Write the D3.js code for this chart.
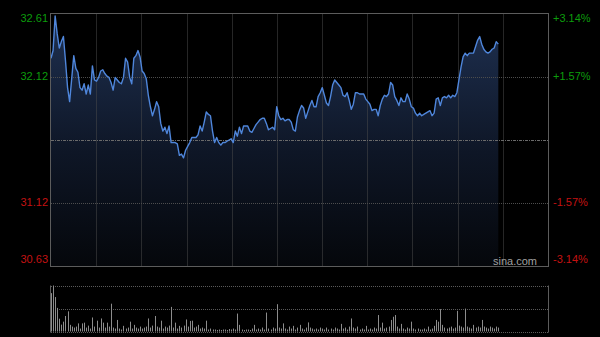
<!DOCTYPE html>
<html>
<head>
<meta charset="utf-8">
<script src="https://cdn.jsdelivr.net/npm/d3@7"></script>
<style>
  html, body { margin: 0; padding: 0; background: #000; }
  svg { display: block; }
</style>
</head>
<body>
<div id="viz"></div>
<script>
// minute-by-minute prices, 9:30 onwards (index = trading minute)
const prices = [
  32.26, 32.32, 32.59, 32.45, 32.34, 32.39, 32.43, 32.24, 32.03, 31.92,
  32.10, 32.28, 32.18, 32.15, 32.03, 32.01, 32.06, 31.98, 32.05, 31.98,
  32.20, 32.09, 32.08, 32.11, 32.16, 32.17, 32.14, 32.12, 32.11, 32.07,
  32.01, 32.11, 32.09, 32.07, 32.06, 32.11, 32.26, 32.23, 32.11, 32.06,
  32.26, 32.28, 32.32, 32.27, 32.16, 32.14, 32.10, 31.97, 31.88, 31.81,
  31.86, 31.92, 31.88, 31.75, 31.69, 31.72, 31.67, 31.73, 31.60, 31.60,
  31.60, 31.59, 31.50, 31.51, 31.48, 31.54, 31.57, 31.60, 31.64, 31.64,
  31.64, 31.66, 31.73, 31.69, 31.76, 31.84, 31.82, 31.81, 31.69, 31.60,
  31.64, 31.60, 31.58, 31.60, 31.60, 31.61, 31.62, 31.63, 31.60, 31.69,
  31.65, 31.72, 31.67, 31.73, 31.73, 31.73, 31.69, 31.68, 31.71, 31.74,
  31.76, 31.78, 31.79, 31.79, 31.75, 31.70, 31.71, 31.72, 31.70, 31.88,
  31.81, 31.78, 31.79, 31.77, 31.78, 31.78, 31.76, 31.70, 31.69, 31.80,
  31.85, 31.89, 31.87, 31.79, 31.84, 31.89, 31.93, 31.88, 31.88, 31.96,
  31.99, 32.03, 31.97, 31.91, 31.89, 31.96, 32.05, 32.09, 32.07, 32.05,
  32.03, 31.97, 31.96, 31.99, 31.93, 31.86, 31.90, 31.99, 31.99, 31.98,
  31.98, 31.98, 31.94, 31.92, 31.90, 31.85, 31.86, 31.86, 31.81, 31.89,
  31.94, 31.97, 31.96, 31.98, 32.07, 32.05, 31.96, 31.93, 31.89, 31.95,
  31.92, 31.92, 31.98, 31.94, 31.88, 31.87, 31.83, 31.81, 31.83, 31.81,
  31.82, 31.83, 31.84, 31.85, 31.81, 31.83, 31.94, 31.95, 31.89, 31.95,
  31.96, 31.95, 31.97, 31.95, 31.97, 31.96, 31.99, 32.09, 32.19, 32.27,
  32.30, 32.28, 32.30, 32.30, 32.30, 32.35, 32.40, 32.43, 32.37, 32.33,
  32.31, 32.30, 32.31, 32.33, 32.34, 32.39, 32.37
];

const volumes = [
  780, 935, 700, 480, 260, 140, 200, 315, 410, 135,
  100, 80, 100, 165, 60, 165, 180, 80, 120, 60,
  285, 100, 220, 80, 265, 180, 80, 180, 100, 565,
  80, 60, 235, 60, 40, 115, 60, 80, 200, 60,
  135, 80, 60, 100, 60, 80, 100, 265, 80, 120,
  315, 100, 80, 220, 60, 100, 80, 120, 500, 80,
  180, 60, 115, 80, 120, 245, 100, 215, 220, 80,
  100, 135, 60, 80, 60, 220, 40, 60, 40, 40,
  30, 40, 30, 40, 40, 30, 50, 40, 60, 40,
  365, 135, 40, 30, 40, 40, 30, 60, 135, 40,
  60, 40, 80, 40, 385, 60, 40, 80, 60, 555,
  80, 60, 165, 60, 40, 100, 60, 115, 40, 80,
  135, 60, 40, 80, 185, 80, 60, 40, 60, 40,
  80, 60, 40, 80, 40, 60, 40, 80, 60, 40,
  155, 60, 80, 40, 100, 265, 80, 60, 100, 40,
  60, 40, 115, 40, 60, 40, 80, 60, 335, 80,
  180, 60, 80, 100, 235, 300, 335, 100, 60, 155,
  60, 40, 80, 60, 200, 60, 40, 60, 40, 40,
  60, 40, 100, 40, 60, 115, 235, 200, 455, 135,
  80, 60, 80, 100, 60, 80, 420, 120, 100, 80,
  465, 100, 80, 60, 135, 80, 100, 80, 235, 100,
  80, 60, 100, 80, 60, 100, 80
];

const prevClose = 31.62;
const tickValues = [32.61, 32.115, 31.62, 31.125, 30.63];
const leftLabels = ["32.61", "32.12", "", "31.12", "30.63"];
const rightLabels = ["+3.14%", "+1.57%", "", "-1.57%", "-3.14%"];
const totalMinutes = 240;

const W = 600, H = 337;
const plotL = 51, plotR = 548;
const plotT = 13.5, plotB = 266.5;
const volT = 285.5, volB = 331.5;

const svg = d3.select("#viz").append("svg")
  .attr("width", W).attr("height", H)
  .style("background", "#000")
  .style("font-family", "'Liberation Sans', Arial, sans-serif");

const x = d3.scaleLinear().domain([0, totalMinutes]).range([plotL, plotR]);
const y = d3.scaleLinear().domain([30.63, 32.61]).range([plotB, plotT]);
const yv = d3.scaleLinear().domain([0, d3.max(volumes)]).range([volB, volT]);

// gradient for area
const defs = svg.append("defs");
const grad = defs.append("linearGradient")
  .attr("id", "areaGrad").attr("gradientUnits", "userSpaceOnUse")
  .attr("x1", 0).attr("y1", plotT).attr("x2", 0).attr("y2", plotB);
grad.append("stop").attr("offset", "0%").attr("stop-color", "#1f3152");
grad.append("stop").attr("offset", "55%").attr("stop-color", "#0e1626");
grad.append("stop").attr("offset", "100%").attr("stop-color", "#05070b");

// area + line
const area = d3.area()
  .x((d, i) => x(i))
  .y0(plotB)
  .y1(d => y(d));

const line = d3.line()
  .x((d, i) => x(i))
  .y(d => y(d));

svg.append("path").datum(prices)
  .attr("d", area)
  .attr("fill", "url(#areaGrad)");

// grid
const gridColor = "#4d4d4d";
const cols = 11;
for (let k = 1; k < cols; k++) {
  const gx = Math.round(plotL + k * (plotR - plotL) / cols) + 0.5;
  svg.append("line").attr("x1", gx).attr("x2", gx).attr("y1", plotT).attr("y2", plotB)
    .attr("stroke", gridColor).attr("stroke-dasharray", "1,1");
}

tickValues.forEach((v, i) => {
  if (i === 0 || i === tickValues.length - 1) return;
  const gy = Math.round(y(v)) + 0.5;
  svg.append("line").attr("x1", plotL).attr("x2", plotR).attr("y1", gy).attr("y2", gy)
    .attr("stroke", v === prevClose ? "#6a6a6a" : gridColor)
    .attr("stroke-dasharray", v === prevClose ? "3,1,1,1" : "1,1");
});

svg.append("path").datum(prices)
  .attr("d", line)
  .attr("fill", "none")
  .attr("stroke", "#4f86db")
  .attr("stroke-width", 1.4)
  .attr("stroke-linejoin", "round");

// frame
svg.append("rect")
  .attr("x", plotL - 0.5).attr("y", plotT)
  .attr("width", plotR - plotL + 1).attr("height", plotB - plotT)
  .attr("fill", "none").attr("stroke", "#5c5c5c");

// labels
const fs = 11;
tickValues.forEach((v, i) => {
  const ly = Math.min(Math.max(y(v), 19), 260);
  const col = v > prevClose ? "#0c9c0c" : "#c41212";
  if (leftLabels[i]) {
    svg.append("text").attr("x", 48).attr("y", ly).attr("text-anchor", "end")
      .attr("dominant-baseline", "middle").attr("font-size", fs).attr("fill", col)
      .text(leftLabels[i]);
  }
  if (rightLabels[i]) {
    svg.append("text").attr("x", 553).attr("y", ly)
      .attr("dominant-baseline", "middle").attr("font-size", fs).attr("fill", col)
      .text(rightLabels[i]);
  }
});

svg.append("text").attr("x", 537).attr("y", 262).attr("text-anchor", "end")
  .attr("dominant-baseline", "middle").attr("font-size", 11).attr("fill", "#a0a0a0")
  .text("sina.com");

// volume panel
[volT, (volT + volB) / 2, volB].forEach(vy => {
  const yy = Math.round(vy) + 0.5;
  svg.append("line").attr("x1", plotL).attr("x2", plotR).attr("y1", yy).attr("y2", yy)
    .attr("stroke", "#5a5a5a").attr("stroke-dasharray", "1,1");
});
svg.append("line").attr("x1", plotL - 0.5).attr("x2", plotL - 0.5).attr("y1", volT).attr("y2", volB + 1)
  .attr("stroke", "#5c5c5c");
svg.append("line").attr("x1", plotR + 0.5).attr("x2", plotR + 0.5).attr("y1", volT).attr("y2", volB + 1)
  .attr("stroke", "#5c5c5c");

svg.append("g").selectAll("rect")
  .data(volumes)
  .join("rect")
  .attr("x", (d, i) => Math.round(x(i)))
  .attr("y", d => yv(d))
  .attr("width", 1)
  .attr("height", d => volB - yv(d))
  .attr("fill", "#8c8c8c");
</script>
</body>
</html>
